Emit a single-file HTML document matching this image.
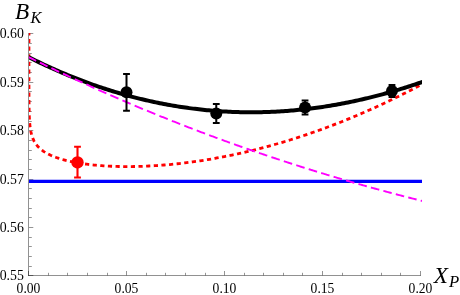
<!DOCTYPE html>
<html><head><meta charset="utf-8"><style>
html,body{margin:0;padding:0;background:#fff;}
svg{display:block;will-change:transform;}
text{font-family:"Liberation Serif",serif;}
</style></head><body>
<svg width="460" height="295" viewBox="0 0 460 295">
<rect width="460" height="295" fill="#fff"/>
<g stroke="#000" stroke-width="1" fill="none">
<path d="M28,275.5 H421 M28.5,276 V33" stroke-opacity="0.43"/>
<path d="M28.50,275.4 V271 M48.50,275.4 V272.8 M67.50,275.4 V272.8 M87.50,275.4 V272.8 M107.50,275.4 V272.8 M126.50,275.4 V271 M146.50,275.4 V272.8 M165.50,275.4 V272.8 M185.50,275.4 V272.8 M205.50,275.4 V272.8 M224.50,275.4 V271 M244.50,275.4 V272.8 M263.50,275.4 V272.8 M283.50,275.4 V272.8 M302.50,275.4 V272.8 M322.50,275.4 V271 M342.50,275.4 V272.8 M361.50,275.4 V272.8 M381.50,275.4 V272.8 M400.50,275.4 V272.8 M420.50,275.4 V271 M29,275.50 H33.3 M29,266.50 H31.8 M29,256.50 H31.8 M29,246.50 H31.8 M29,237.50 H31.8 M29,227.50 H33.3 M29,217.50 H31.8 M29,208.50 H31.8 M29,198.50 H31.8 M29,188.50 H31.8 M29,179.50 H33.3 M29,169.50 H31.8 M29,159.50 H31.8 M29,150.50 H31.8 M29,140.50 H31.8 M29,130.50 H33.3 M29,121.50 H31.8 M29,111.50 H31.8 M29,101.50 H31.8 M29,91.50 H31.8 M29,82.50 H33.3 M29,72.50 H31.8 M29,62.50 H31.8 M29,53.50 H31.8 M29,43.50 H31.8 M29,33.50 H33.3" stroke-opacity="0.42"/>
</g>
<g font-size="15.2" fill="#000">
<text x="28.50" y="292.6" text-anchor="middle" textLength="23.8" lengthAdjust="spacingAndGlyphs">0.00</text>
<text x="126.50" y="292.6" text-anchor="middle" textLength="23.8" lengthAdjust="spacingAndGlyphs">0.05</text>
<text x="224.50" y="292.6" text-anchor="middle" textLength="23.8" lengthAdjust="spacingAndGlyphs">0.10</text>
<text x="322.50" y="292.6" text-anchor="middle" textLength="23.8" lengthAdjust="spacingAndGlyphs">0.15</text>
<text x="420.50" y="292.6" text-anchor="middle" textLength="23.8" lengthAdjust="spacingAndGlyphs">0.20</text>
<text x="23.9" y="280.40" text-anchor="end" textLength="24.2" lengthAdjust="spacingAndGlyphs">0.55</text>
<text x="23.9" y="232.00" text-anchor="end" textLength="24.2" lengthAdjust="spacingAndGlyphs">0.56</text>
<text x="23.9" y="183.60" text-anchor="end" textLength="24.2" lengthAdjust="spacingAndGlyphs">0.57</text>
<text x="23.9" y="135.20" text-anchor="end" textLength="24.2" lengthAdjust="spacingAndGlyphs">0.58</text>
<text x="23.9" y="86.80" text-anchor="end" textLength="24.2" lengthAdjust="spacingAndGlyphs">0.59</text>
<text x="23.9" y="38.40" text-anchor="end" textLength="24.2" lengthAdjust="spacingAndGlyphs">0.60</text>
</g>
<text x="15" y="19.0" font-size="23.6" font-style="italic" textLength="14.2" lengthAdjust="spacingAndGlyphs">B</text>
<text x="30.6" y="22.6" font-size="16.4" font-style="italic">K</text>
<text x="433.8" y="282.9" font-size="23.3" font-style="italic">X</text>
<text x="449.0" y="286.6" font-size="16.7" font-style="italic">P</text>
<defs><clipPath id="c"><rect x="28.9" y="33.0" width="393.1" height="242.5"/></clipPath></defs>
<g clip-path="url(#c)">
<path d="M28.5,181.36 H423" stroke="#0000ff" stroke-width="3.1" fill="none"/>
<path d="M28.50,31.27 L28.50,32.04 L28.50,32.81 L28.50,33.58 L28.50,34.35 L28.50,35.12 L28.50,35.89 L28.50,36.66 L28.50,37.43 L28.50,38.20 L28.50,38.96 L28.50,39.73 L28.50,40.50 L28.50,41.27 L28.50,42.04 L28.50,42.81 L28.50,43.58 L28.50,44.35 L28.50,45.12 L28.50,45.89 L28.50,46.66 L28.50,47.43 L28.50,48.20 L28.50,48.97 L28.50,49.74 L28.50,50.50 L28.50,51.27 L28.50,52.04 L28.50,52.81 L28.50,53.58 L28.50,54.35 L28.50,55.12 L28.50,55.89 L28.50,56.66 L28.50,57.43 L28.50,58.20 L28.50,58.97 L28.50,59.74 L28.50,60.51 L28.50,61.28 L28.50,62.04 L28.50,62.81 L28.50,63.58 L28.50,64.35 L28.50,65.12 L28.50,65.89 L28.50,66.66 L28.50,67.43 L28.50,68.20 L28.50,68.97 L28.50,69.74 L28.50,70.51 L28.50,71.28 L28.50,72.05 L28.50,72.82 L28.50,73.58 L28.50,74.35 L28.51,75.12 L28.51,75.89 L28.51,76.66 L28.51,77.43 L28.51,78.20 L28.51,78.97 L28.51,79.74 L28.51,80.51 L28.51,81.28 L28.51,82.05 L28.51,82.82 L28.51,83.59 L28.51,84.36 L28.51,85.12 L28.52,85.89 L28.52,86.66 L28.52,87.43 L28.52,88.20 L28.52,88.97 L28.52,89.74 L28.53,90.51 L28.53,91.28 L28.53,92.05 L28.53,92.82 L28.54,93.59 L28.54,94.36 L28.54,95.13 L28.55,95.90 L28.55,96.67 L28.55,97.44 L28.56,98.21 L28.56,98.97 L28.57,99.74 L28.57,100.51 L28.58,101.28 L28.59,102.05 L28.59,102.82 L28.60,103.59 L28.61,104.36 L28.62,105.13 L28.63,105.90 L28.64,106.67 L28.65,107.44 L28.66,108.21 L28.68,108.98 L28.69,109.75 L28.71,110.52 L28.73,111.29 L28.75,112.06 L28.77,112.83 L28.79,113.60 L28.81,114.37 L28.84,115.14 L28.87,115.91 L28.90,116.69 L28.94,117.46 L28.97,118.23 L29.01,119.00 L29.06,119.77 L29.10,120.54 L29.15,121.31 L29.21,122.09 L29.27,122.86 L29.33,123.63 L29.40,124.40 L29.48,125.18 L29.56,125.95 L29.65,126.72 L29.75,127.50 L29.85,128.27 L29.97,129.04 L30.09,129.82 L30.23,130.60 L30.37,131.37 L30.53,132.15 L30.70,132.92 L30.89,133.70 L31.09,134.48 L31.31,135.26 L31.54,136.04 L31.80,136.82 L32.08,137.60 L32.38,138.38 L32.71,139.17 L33.06,139.95 L33.45,140.74 L33.86,141.52 L34.32,142.31 L34.81,143.10 L35.34,143.89 L35.92,144.68 L36.54,145.47 L37.22,146.27 L37.96,147.06 L38.75,147.86 L39.62,148.66 L40.56,149.45 L41.57,150.25 L42.68,151.05 L43.87,151.86 L45.17,152.66 L46.58,153.46 L48.10,154.26 L48.30,154.36 L50.19,155.26 L52.08,156.08 L53.97,156.84 L55.86,157.54 L57.75,158.18 L59.64,158.79 L61.53,159.35 L63.42,159.88 L65.31,160.37 L67.20,160.83 L69.09,161.27 L70.98,161.68 L72.87,162.06 L74.76,162.42 L76.65,162.76 L78.54,163.09 L80.43,163.39 L82.32,163.67 L84.21,163.94 L86.10,164.19 L87.99,164.43 L89.88,164.65 L91.77,164.86 L93.66,165.05 L95.55,165.23 L97.44,165.39 L99.33,165.55 L101.22,165.69 L103.11,165.82 L105.00,165.94 L106.89,166.05 L108.78,166.15 L110.67,166.23 L112.56,166.31 L114.45,166.38 L116.34,166.43 L118.23,166.48 L120.12,166.51 L122.01,166.54 L123.90,166.56 L125.79,166.57 L127.68,166.57 L129.57,166.56 L131.46,166.54 L133.35,166.52 L135.24,166.48 L137.13,166.44 L139.02,166.39 L140.91,166.33 L142.80,166.27 L144.69,166.19 L146.58,166.11 L148.47,166.02 L150.36,165.92 L152.25,165.81 L154.14,165.70 L156.03,165.58 L157.92,165.45 L159.81,165.31 L161.70,165.17 L163.59,165.02 L165.48,164.86 L167.37,164.70 L169.26,164.52 L171.15,164.34 L173.04,164.16 L174.93,163.96 L176.82,163.76 L178.71,163.56 L180.60,163.34 L182.49,163.12 L184.38,162.89 L186.27,162.66 L188.16,162.41 L190.05,162.17 L191.94,161.91 L193.83,161.65 L195.72,161.38 L197.61,161.10 L199.50,160.82 L201.39,160.53 L203.28,160.24 L205.17,159.93 L207.06,159.63 L208.95,159.31 L210.84,158.99 L212.73,158.66 L214.62,158.33 L216.51,157.99 L218.40,157.64 L220.29,157.28 L222.18,156.92 L224.07,156.56 L225.96,156.18 L227.85,155.80 L229.74,155.42 L231.63,155.02 L233.52,154.63 L235.41,154.22 L237.30,153.81 L239.19,153.39 L241.08,152.97 L242.97,152.54 L244.86,152.10 L246.75,151.66 L248.64,151.21 L250.53,150.75 L252.42,150.29 L254.31,149.83 L256.20,149.35 L258.09,148.87 L259.98,148.38 L261.87,147.89 L263.76,147.39 L265.65,146.89 L267.54,146.38 L269.43,145.86 L271.32,145.34 L273.21,144.81 L275.10,144.27 L276.99,143.73 L278.88,143.18 L280.77,142.63 L282.66,142.07 L284.55,141.50 L286.44,140.93 L288.33,140.35 L290.23,139.76 L292.12,139.17 L294.01,138.58 L295.90,137.97 L297.79,137.36 L299.68,136.75 L301.57,136.13 L303.46,135.50 L305.35,134.87 L307.24,134.23 L309.13,133.58 L311.02,132.93 L312.91,132.27 L314.80,131.61 L316.69,130.94 L318.58,130.26 L320.47,129.58 L322.36,128.89 L324.25,128.20 L326.14,127.50 L328.03,126.79 L329.92,126.08 L331.81,125.36 L333.70,124.64 L335.59,123.91 L337.48,123.17 L339.37,122.43 L341.26,121.68 L343.15,120.92 L345.04,120.16 L346.93,119.40 L348.82,118.62 L350.71,117.84 L352.60,117.06 L354.49,116.27 L356.38,115.47 L358.27,114.67 L360.16,113.86 L362.05,113.04 L363.94,112.22 L365.83,111.40 L367.72,110.56 L369.61,109.72 L371.50,108.88 L373.39,108.03 L375.28,107.17 L377.17,106.31 L379.06,105.44 L380.95,104.56 L382.84,103.68 L384.73,102.79 L386.62,101.90 L388.51,101.00 L390.40,100.09 L392.29,99.18 L394.18,98.26 L396.07,97.34 L397.96,96.41 L399.85,95.47 L401.74,94.53 L403.63,93.59 L405.52,92.63 L407.41,91.67 L409.30,90.71 L411.19,89.73 L413.08,88.76 L414.97,87.77 L416.86,86.78 L418.75,85.79 L420.64,84.78 L422.53,83.77 L424.42,82.76" stroke="#ff0000" stroke-width="2.8" stroke-dasharray="4.2,3.45" fill="none" transform="translate(0.45,0)"/>
<path d="M28.50,57.06 L30.46,58.04 L32.42,59.02 L34.38,59.99 L36.34,60.94 L38.30,61.89 L40.26,62.83 L42.22,63.76 L44.18,64.69 L46.14,65.60 L48.10,66.50 L50.06,67.40 L52.02,68.28 L53.98,69.16 L55.94,70.02 L57.90,70.88 L59.86,71.73 L61.82,72.57 L63.78,73.40 L65.74,74.22 L67.70,75.03 L69.66,75.84 L71.62,76.63 L73.58,77.42 L75.54,78.19 L77.50,78.96 L79.46,79.72 L81.42,80.47 L83.38,81.21 L85.34,81.94 L87.30,82.66 L89.26,83.38 L91.22,84.08 L93.18,84.78 L95.14,85.47 L97.10,86.14 L99.06,86.81 L101.02,87.47 L102.98,88.12 L104.94,88.77 L106.90,89.40 L108.86,90.02 L110.82,90.64 L112.78,91.25 L114.74,91.84 L116.70,92.43 L118.66,93.01 L120.62,93.59 L122.58,94.15 L124.54,94.70 L126.50,95.25 L128.46,95.78 L130.42,96.31 L132.38,96.83 L134.34,97.34 L136.30,97.84 L138.26,98.33 L140.22,98.82 L142.18,99.29 L144.14,99.76 L146.10,100.22 L148.06,100.67 L150.02,101.11 L151.98,101.54 L153.94,101.96 L155.90,102.38 L157.86,102.78 L159.82,103.18 L161.78,103.57 L163.74,103.95 L165.70,104.32 L167.66,104.68 L169.62,105.04 L171.58,105.38 L173.54,105.72 L175.50,106.05 L177.46,106.37 L179.42,106.68 L181.38,106.98 L183.34,107.28 L185.30,107.56 L187.26,107.84 L189.22,108.11 L191.18,108.37 L193.14,108.62 L195.10,108.86 L197.06,109.10 L199.02,109.33 L200.98,109.54 L202.94,109.75 L204.90,109.95 L206.86,110.15 L208.82,110.33 L210.78,110.51 L212.74,110.67 L214.70,110.83 L216.66,110.98 L218.62,111.13 L220.58,111.26 L222.54,111.38 L224.50,111.50 L226.46,111.61 L228.42,111.71 L230.38,111.80 L232.34,111.89 L234.30,111.96 L236.26,112.03 L238.22,112.09 L240.18,112.14 L242.14,112.18 L244.10,112.22 L246.06,112.24 L248.02,112.26 L249.98,112.27 L251.94,112.27 L253.90,112.26 L255.86,112.25 L257.82,112.22 L259.78,112.19 L261.74,112.15 L263.70,112.10 L265.66,112.05 L267.62,111.98 L269.58,111.91 L271.54,111.83 L273.50,111.74 L275.46,111.65 L277.42,111.54 L279.38,111.43 L281.34,111.31 L283.30,111.18 L285.26,111.04 L287.22,110.89 L289.18,110.74 L291.14,110.58 L293.10,110.41 L295.06,110.23 L297.02,110.05 L298.98,109.85 L300.94,109.65 L302.90,109.44 L304.86,109.22 L306.82,109.00 L308.78,108.76 L310.74,108.52 L312.70,108.27 L314.66,108.02 L316.62,107.75 L318.58,107.48 L320.54,107.20 L322.50,106.91 L324.46,106.61 L326.42,106.31 L328.38,105.99 L330.34,105.67 L332.30,105.34 L334.26,105.01 L336.22,104.66 L338.18,104.31 L340.14,103.95 L342.10,103.58 L344.06,103.21 L346.02,102.82 L347.98,102.43 L349.94,102.03 L351.90,101.63 L353.86,101.21 L355.82,100.79 L357.78,100.36 L359.74,99.92 L361.70,99.48 L363.66,99.02 L365.62,98.56 L367.58,98.09 L369.54,97.62 L371.50,97.13 L373.46,96.64 L375.42,96.14 L377.38,95.63 L379.34,95.12 L381.30,94.60 L383.26,94.07 L385.22,93.53 L387.18,92.98 L389.14,92.43 L391.10,91.87 L393.06,91.30 L395.02,90.72 L396.98,90.14 L398.94,89.55 L400.90,88.95 L402.86,88.35 L404.82,87.73 L406.78,87.11 L408.74,86.48 L410.70,85.85 L412.66,85.20 L414.62,84.55 L416.58,83.89 L418.54,83.23 L420.50,82.55 L422.46,81.87 L424.42,81.18" stroke="#000" stroke-width="4.0" fill="none"/>
<path d="M28.50,57.07 L29.59,57.61 L30.68,58.14 L31.77,58.68 L32.86,59.21 L33.95,59.74 L35.04,60.27 L36.13,60.80 M39.88,62.63 L40.98,63.16 L42.08,63.69 L43.18,64.22 L44.28,64.75 L45.38,65.28 L46.48,65.81 L47.58,66.34 M51.37,68.15 L52.48,68.68 L53.59,69.20 L54.70,69.73 L55.81,70.26 L56.91,70.78 L58.02,71.30 L59.13,71.83 M62.96,73.63 L64.07,74.15 L65.19,74.67 L66.31,75.20 L67.43,75.72 L68.55,76.24 L69.67,76.76 L70.79,77.28 M74.64,79.06 L75.77,79.58 L76.90,80.10 L78.03,80.62 L79.16,81.14 L80.29,81.66 L81.42,82.17 L82.55,82.69 M86.44,84.46 L87.57,84.98 L88.71,85.49 L89.85,86.00 L90.99,86.52 L92.13,87.03 L93.27,87.54 L94.41,88.05 M98.33,89.81 L99.48,90.32 L100.63,90.83 L101.78,91.34 L102.93,91.85 L104.07,92.36 L105.22,92.86 L106.37,93.37 M110.33,95.11 L111.49,95.62 L112.65,96.12 L113.81,96.63 L114.97,97.13 L116.13,97.63 L117.28,98.14 L118.44,98.64 M122.44,100.36 L123.61,100.86 L124.78,101.36 L125.95,101.86 L127.11,102.36 L128.28,102.86 L129.45,103.36 L130.62,103.86 M134.65,105.56 L135.83,106.06 L137.01,106.55 L138.19,107.05 L139.37,107.54 L140.55,108.04 L141.73,108.53 L142.91,109.02 M146.97,110.71 L148.16,111.20 L149.35,111.69 L150.54,112.18 L151.73,112.67 L152.92,113.15 L154.11,113.64 L155.30,114.13 M159.40,115.80 L160.59,116.28 L161.78,116.76 L162.97,117.24 L164.16,117.72 L165.36,118.20 L166.55,118.68 L167.74,119.15 M171.84,120.79 L173.03,121.26 L174.23,121.73 L175.42,122.20 L176.61,122.67 L177.80,123.14 L178.99,123.61 L180.18,124.08 M184.29,125.68 L185.48,126.14 L186.67,126.60 L187.86,127.06 L189.05,127.52 L190.24,127.98 L191.43,128.44 L192.62,128.90 M196.73,130.47 L197.92,130.92 L199.11,131.37 L200.30,131.82 L201.49,132.27 L202.68,132.72 L203.87,133.17 L205.07,133.62 M209.17,135.15 L210.36,135.59 L211.55,136.04 L212.74,136.48 L213.94,136.92 L215.13,137.36 L216.32,137.80 L217.51,138.23 M221.61,139.73 L222.80,140.17 L224.00,140.60 L225.19,141.03 L226.38,141.46 L227.57,141.89 L228.76,142.32 L229.95,142.75 M234.06,144.22 L235.25,144.64 L236.44,145.06 L237.63,145.48 L238.82,145.90 L240.01,146.32 L241.20,146.74 L242.39,147.16 M246.50,148.59 L247.69,149.01 L248.88,149.42 L250.07,149.83 L251.26,150.25 L252.45,150.66 L253.64,151.07 L254.84,151.48 M258.94,152.88 L260.13,153.29 L261.32,153.69 L262.51,154.10 L263.71,154.50 L264.90,154.90 L266.09,155.30 L267.28,155.70 M271.38,157.08 L272.58,157.48 L273.77,157.87 L274.96,158.27 L276.15,158.66 L277.34,159.06 L278.53,159.45 L279.72,159.84 M283.83,161.19 L285.02,161.58 L286.21,161.96 L287.40,162.35 L288.59,162.74 L289.78,163.12 L290.97,163.51 L292.16,163.89 M296.27,165.21 L297.46,165.59 L298.65,165.97 L299.84,166.35 L301.03,166.72 L302.22,167.10 L303.42,167.48 L304.61,167.85 M308.71,169.14 L309.90,169.51 L311.09,169.88 L312.29,170.25 L313.48,170.62 L314.67,170.99 L315.86,171.36 L317.05,171.73 M321.15,172.99 L322.35,173.35 L323.54,173.71 L324.73,174.07 L325.92,174.43 L327.11,174.79 L328.30,175.15 L329.49,175.51 M333.60,176.74 L334.79,177.10 L335.98,177.45 L337.17,177.80 L338.36,178.16 L339.55,178.51 L340.74,178.86 L341.93,179.21 M346.04,180.41 L347.23,180.75 L348.42,181.10 L349.61,181.45 L350.80,181.79 L351.99,182.13 L353.19,182.47 L354.38,182.82 M358.48,183.99 L359.67,184.33 L360.86,184.66 L362.06,185.00 L363.25,185.33 L364.44,185.67 L365.63,186.00 L366.82,186.34 M370.93,187.48 L372.12,187.81 L373.31,188.14 L374.50,188.46 L375.69,188.79 L376.88,189.12 L378.07,189.44 L379.26,189.77 M383.37,190.88 L384.56,191.20 L385.75,191.52 L386.94,191.84 L388.13,192.16 L389.32,192.48 L390.51,192.79 L391.70,193.11 M395.81,194.19 L397.00,194.51 L398.19,194.82 L399.38,195.13 L400.57,195.44 L401.77,195.75 L402.96,196.06 L404.15,196.37 M408.25,197.42 L409.44,197.72 L410.64,198.03 L411.83,198.33 L413.02,198.63 L414.21,198.93 L415.40,199.23 L416.59,199.53 M420.70,200.56 L421.03,200.64 L421.35,200.72 L421.68,200.80 L422.01,200.88 L422.34,200.97 L422.67,201.05 L423.00,201.13" stroke="#ff00ff" stroke-width="1.9" fill="none"/>
</g>
<g stroke="#000" stroke-width="2.0" fill="none"><path d="M126.50,73.96 V110.75 M123.10,73.96 H129.90 M123.10,110.75 H129.90"/></g><circle cx="126.50" cy="92.35" r="6" fill="#000"/><g stroke="#000" stroke-width="2.0" fill="none"><path d="M216.27,104.07 V122.94 M212.87,104.07 H219.67 M212.87,122.94 H219.67"/></g><circle cx="216.27" cy="113.51" r="6" fill="#000"/><g stroke="#000" stroke-width="2.0" fill="none"><path d="M305.06,100.39 V114.42 M301.66,100.39 H308.46 M301.66,114.42 H308.46"/></g><circle cx="305.06" cy="107.41" r="6" fill="#000"/><g stroke="#000" stroke-width="2.0" fill="none"><path d="M391.98,84.90 V97.10 M388.58,84.90 H395.38 M388.58,97.10 H395.38"/></g><circle cx="391.98" cy="91.00" r="6" fill="#000"/>
<g stroke="#ff0000" stroke-width="2.1" fill="none"><path d="M77.50,146.76 V177.49 M74.10,146.76 H80.90 M74.10,177.49 H80.90"/></g><circle cx="77.50" cy="162.49" r="6.2" fill="#ff0000"/>
</svg>
</body></html>
